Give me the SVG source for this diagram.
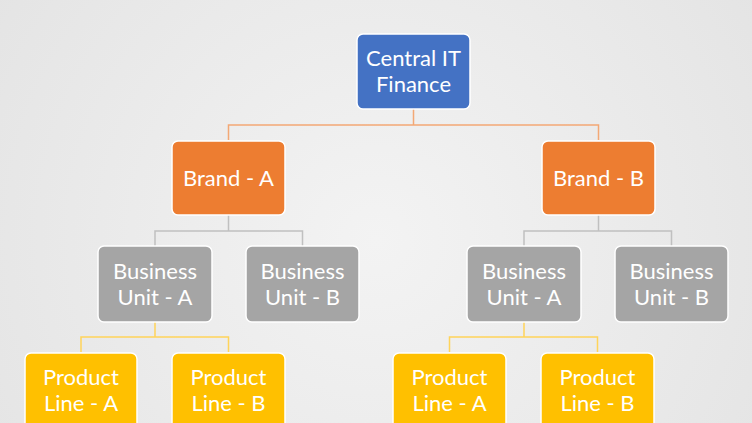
<svg xmlns="http://www.w3.org/2000/svg" width="752" height="423" viewBox="0 0 752 423">
  <defs>
    <radialGradient id="bg" cx="376" cy="240" r="520" gradientUnits="userSpaceOnUse">
      <stop offset="0" stop-color="#F3F3F3"/>
      <stop offset="1" stop-color="#E2E2E2"/>
    </radialGradient>
  </defs>
  <style>
    .box { stroke: #FFFFFF; stroke-width: 1.5; }
    .blue { fill: #4472C4; }
    .orange { fill: #ED7D31; }
    .gray { fill: #A5A5A5; }
    .gold { fill: #FFC000; }
    .t { font-family: Lato, "Liberation Sans", sans-serif; font-size: 22px; fill: #FFFFFF; text-anchor: middle; }
    .c { fill: none; stroke-width: 1.5; }
    .co { stroke: #F3A875; }
    .cg { stroke: #C0C0C0; }
    .cy { stroke: #FFD45A; }
  </style>
  <rect x="0" y="0" width="752" height="423" fill="url(#bg)"/>

  <g id="connectors">
    <path class="c co" d="M413.5 109 V125 M228.5 140 V125 H598.5 V140"/>
    <path class="c cg" d="M228.5 215 V231 M155 246 V231 H302.5 V246"/>
    <path class="c cg" d="M598.5 215 V231 M524 246 V231 H671.5 V246"/>
    <path class="c cy" d="M155 322 V337 M81 352 V337 H228.5 V352"/>
    <path class="c cy" d="M524 322 V337 M449.5 352 V337 H597.5 V352"/>
  </g>

  <g id="central">
    <rect class="box blue" x="357" y="34" width="113" height="75" rx="6"/>
    <text class="t" x="413.5" y="66">Central IT</text>
    <text class="t" x="413.5" y="92">Finance</text>
  </g>

  <g id="brandA">
    <rect class="box orange" x="172" y="141" width="113" height="74" rx="6"/>
    <text class="t" x="228.5" y="186">Brand - A</text>
  </g>
  <g id="brandB">
    <rect class="box orange" x="542" y="141" width="113" height="74" rx="6"/>
    <text class="t" x="598.5" y="186">Brand - B</text>
  </g>

  <g id="buAA">
    <rect class="box gray" x="98" y="246" width="114" height="76" rx="6"/>
    <text class="t" x="155" y="278.5">Business</text>
    <text class="t" x="155" y="304.5">Unit - A</text>
  </g>
  <g id="buAB">
    <rect class="box gray" x="246" y="246" width="113" height="76" rx="6"/>
    <text class="t" x="302.5" y="278.5">Business</text>
    <text class="t" x="302.5" y="304.5">Unit - B</text>
  </g>
  <g id="buBA">
    <rect class="box gray" x="467" y="246" width="114" height="76" rx="6"/>
    <text class="t" x="524" y="278.5">Business</text>
    <text class="t" x="524" y="304.5">Unit - A</text>
  </g>
  <g id="buBB">
    <rect class="box gray" x="615" y="246" width="113" height="76" rx="6"/>
    <text class="t" x="671.5" y="278.5">Business</text>
    <text class="t" x="671.5" y="304.5">Unit - B</text>
  </g>

  <g id="plAA">
    <rect class="box gold" x="25" y="353" width="112" height="76" rx="6"/>
    <text class="t" x="81" y="384.5">Product</text>
    <text class="t" x="81" y="410.5">Line - A</text>
  </g>
  <g id="plAB">
    <rect class="box gold" x="172" y="353" width="113" height="76" rx="6"/>
    <text class="t" x="228.5" y="384.5">Product</text>
    <text class="t" x="228.5" y="410.5">Line - B</text>
  </g>
  <g id="plBA">
    <rect class="box gold" x="393" y="353" width="113" height="76" rx="6"/>
    <text class="t" x="449.5" y="384.5">Product</text>
    <text class="t" x="449.5" y="410.5">Line - A</text>
  </g>
  <g id="plBB">
    <rect class="box gold" x="541" y="353" width="113" height="76" rx="6"/>
    <text class="t" x="597.5" y="384.5">Product</text>
    <text class="t" x="597.5" y="410.5">Line - B</text>
  </g>
</svg>
